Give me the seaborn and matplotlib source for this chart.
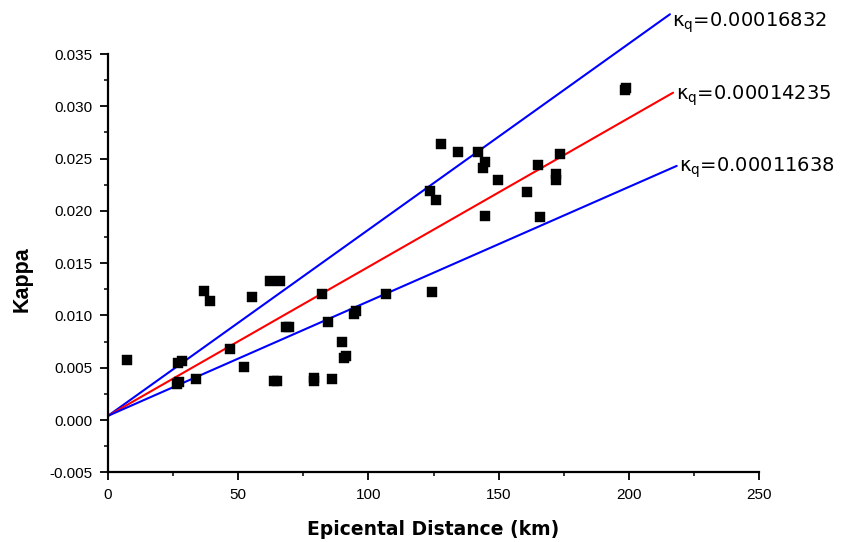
import matplotlib
matplotlib.use("Agg")
import matplotlib.pyplot as plt
import seaborn as sns
import pandas as pd
from matplotlib.ticker import MultipleLocator, FormatStrFormatter

# ---- data ----
distance = [7.3, 26.9, 28.3, 26.6, 27.2, 33.8, 36.9, 39.2, 46.9, 52.2, 55.3,
            62.3, 66.1, 63.6, 64.8, 68.5, 69.6, 82.2, 84.5, 94.5, 95.3,
            106.8, 124.4, 89.9, 90.6, 91.4, 79.1, 79.3, 86.0,
            127.9, 134.5, 142.2, 144.8, 144.2, 123.7, 125.9, 149.6, 144.9,
            160.9, 165.3, 172.0, 172.1, 173.6, 165.9, 198.5, 198.9]
kappa = [0.00571, 0.00542, 0.00564, 0.00347, 0.00365, 0.00396, 0.01237, 0.01140,
         0.00680, 0.00507, 0.01179, 0.01332, 0.01332, 0.00372, 0.00372, 0.00891,
         0.00891, 0.01202, 0.00933, 0.01010, 0.01040, 0.01202, 0.01221, 0.00750,
         0.00590, 0.00610, 0.00370, 0.00405, 0.00395,
         0.02642, 0.02565, 0.02565, 0.02469, 0.02411, 0.02187, 0.02104, 0.02293,
         0.01954, 0.02181, 0.02440, 0.02357, 0.02299, 0.02546, 0.01941,
         0.03160, 0.03175]

line_names = ["k_high", "k_mid", "k_low"]
line_x0 = [0.0, 0.0, 0.0]
line_y0 = [0.0004, 0.0004, 0.0004]
line_x1 = [215.8, 217.0, 218.4]
line_y1 = [0.0388, 0.0313, 0.0243]
line_colors = ["#0000ff", "#ff0000", "#0000ff"]

label_texts = [r"$\mathregular{\kappa_q}$=0.00016832",
               r"$\mathregular{\kappa_q}$=0.00014235",
               r"$\mathregular{\kappa_q}$=0.00011638"]
label_x = [216.6, 218.1, 219.3]
label_y = [0.03765, 0.03067, 0.02376]

xticks = [0, 50, 100, 150, 200, 250]
yticks = [-0.005, 0.000, 0.005, 0.010, 0.015, 0.020, 0.025, 0.030, 0.035]

# ---- plotting ----
sns.set_theme(style="ticks")
plt.rcParams["font.family"] = ["Liberation Sans", "DejaVu Sans"]
plt.rcParams["axes.unicode_minus"] = False
plt.rcParams["text.color"] = "black"
plt.rcParams["axes.labelcolor"] = "black"
plt.rcParams["xtick.color"] = "black"
plt.rcParams["ytick.color"] = "black"

fig = plt.figure(figsize=(8.42, 5.42), dpi=100)
ax = fig.add_axes([108 / 842, 1 - 472.3 / 542, (759 - 108) / 842, (472.3 - 54) / 542])

for i, name in enumerate(line_names):
    df_line = pd.DataFrame({"x": [line_x0[i], line_x1[i]], "y": [line_y0[i], line_y1[i]]})
    sns.lineplot(data=df_line, x="x", y="y", ax=ax, color=line_colors[i],
                 linewidth=1.5, clip_on=False, zorder=2)

df = pd.DataFrame({"distance": distance, "kappa": kappa})
sns.scatterplot(data=df, x="distance", y="kappa", ax=ax, marker="s", s=55,
                color="black", edgecolor="black", linewidth=0.3, zorder=3)

for t, x, y in zip(label_texts, label_x, label_y):
    ax.text(x, y, t, fontsize=14, family=["DejaVu Sans"], va="baseline",
            ha="left", color="black", clip_on=False)

ax.set_xlim(0, 250)
ax.set_ylim(-0.005, 0.035)
ax.set_xticks(xticks)
ax.set_yticks(yticks)
ax.xaxis.set_minor_locator(MultipleLocator(25))
ax.yaxis.set_minor_locator(MultipleLocator(0.0025))
ax.yaxis.set_major_formatter(FormatStrFormatter("%.3f"))

sns.despine(ax=ax)
for sp in ["left", "bottom"]:
    ax.spines[sp].set_linewidth(1.6)
    ax.spines[sp].set_color("black")

ax.tick_params(which="major", length=5.5, width=1.3, direction="out",
               labelsize=11, pad=6, colors="black")
ax.tick_params(which="minor", length=3, width=1.1, direction="out", colors="black")

ax.set_xlabel("Epicental Distance (km)", fontsize=13.5, fontweight="bold",
              family=["DejaVu Sans"], labelpad=13, color="black")
ax.set_ylabel("Kappa", fontsize=15.5, fontweight="bold",
              family=["Liberation Sans"], color="black")
ax.yaxis.set_label_coords(-0.116, 0.462)

fig.savefig("out.png", dpi=100)
